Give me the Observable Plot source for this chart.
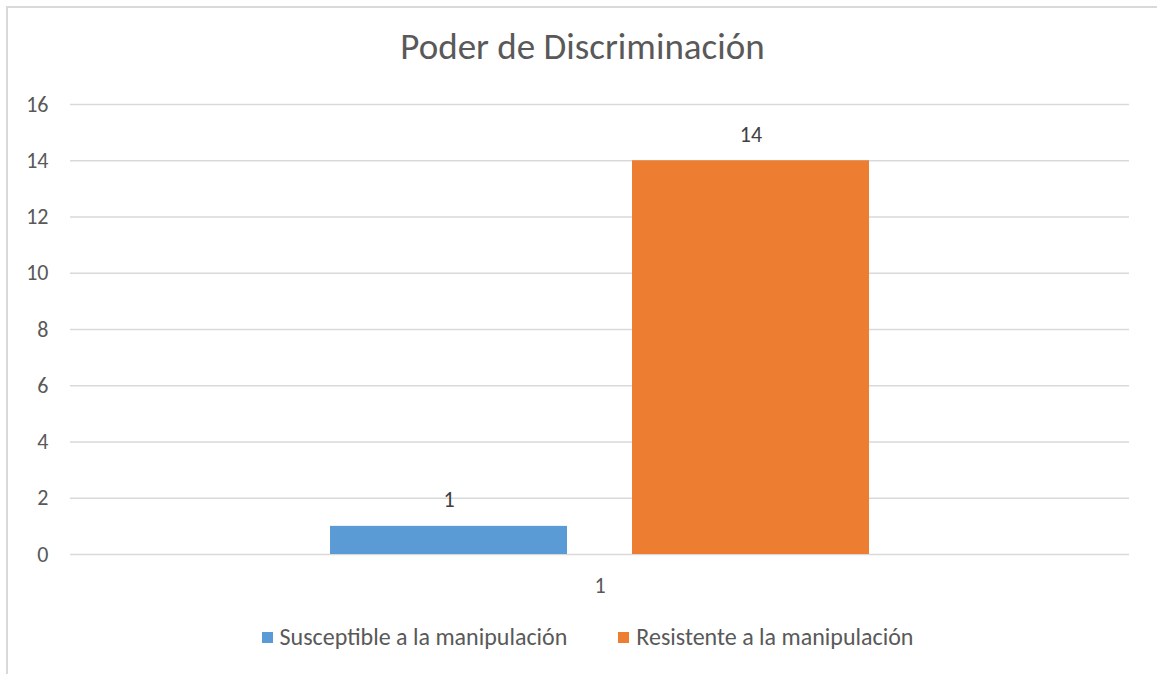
<!DOCTYPE html>
<html>
<head>
<meta charset="utf-8">
<script src="https://cdn.jsdelivr.net/npm/d3@7"></script>
<script src="https://cdn.jsdelivr.net/npm/@observablehq/plot@0.6"></script>
<style>
  html, body { margin: 0; padding: 0; background: #fff; }
  #wrap { position: relative; width: 1157px; height: 674px; overflow: hidden; font-family: Calibri, Carlito, "Open Sans", sans-serif; color: #595959; }
  #frame { position: absolute; left: 6px; top: 6px; width: 1160px; height: 680px; border: 2px solid #d9d9d9; box-sizing: border-box; }
  #title { position: absolute; left: 0; width: 1165px; top: 27px; text-align: center; font-size: 37px; line-height: 40px; }
  #chart { position: absolute; left: 0; top: 0; }
  #legend { position: absolute; left: 0; width: 1175px; top: 623px; display: flex; justify-content: center; gap: 51px; font-size: 24px; line-height: 28px; }
  .item { display: flex; align-items: center; }
  .sw { width: 11px; height: 11px; margin-right: 7px; }
</style>
</head>
<body>
<div id="wrap">
  <div id="frame"></div>
  <div id="title"></div>
  <div id="chart"></div>
  <div id="legend"></div>
</div>
<script>
const title = "Poder de Discriminación";
const categories = ["1"];
const series = ["Susceptible a la manipulación", "Resistente a la manipulación"];
const values = [1, 14];
const colors = ["#5B9BD5", "#ED7D31"];
const yTicks = [0, 2, 4, 6, 8, 10, 12, 14, 16];

const data = series.map((s, i) => ({category: categories[0], series: s, value: values[i]}));

document.getElementById("title").textContent = title;

const chart = Plot.plot({
  width: 1157,
  height: 600,
  marginTop: 104,
  marginBottom: 46,
  marginLeft: 70,
  marginRight: 28,
  style: {fontFamily: 'Calibri, Carlito, "Open Sans", sans-serif', fontSize: "22px", color: "#595959", background: "transparent", overflow: "visible"},
  fx: {domain: categories, padding: 0, label: null},
  x: {domain: series, paddingInner: 0.2149, paddingOuter: 0.8579, axis: null},
  y: {domain: [0, 16]},
  color: {domain: series, range: colors},
  marks: [
    Plot.gridY(yTicks, {stroke: "#d9d9d9", strokeOpacity: 1, strokeWidth: 1.5}),
    Plot.barY(data, {fx: "category", x: "series", y: "value", fill: "series"}),
    Plot.text(data, {fx: "category", x: "series", y: "value", text: d => String(d.value), dy: -26, fill: "#404040", fontSize: 22}),
    Plot.axisY(yTicks, {tickSize: 0, tickPadding: 22, label: null, fill: "#595959"}),
    Plot.axisFx({anchor: "bottom", tickSize: 0, tickPadding: 23, label: null, fill: "#595959"})
  ]
});
document.getElementById("chart").appendChild(chart);

const legend = document.getElementById("legend");
series.forEach((s, i) => {
  const item = document.createElement("div");
  item.className = "item";
  const sw = document.createElement("div");
  sw.className = "sw";
  sw.style.background = colors[i];
  const t = document.createElement("span");
  t.textContent = s;
  item.appendChild(sw);
  item.appendChild(t);
  legend.appendChild(item);
});
</script>
</body>
</html>
